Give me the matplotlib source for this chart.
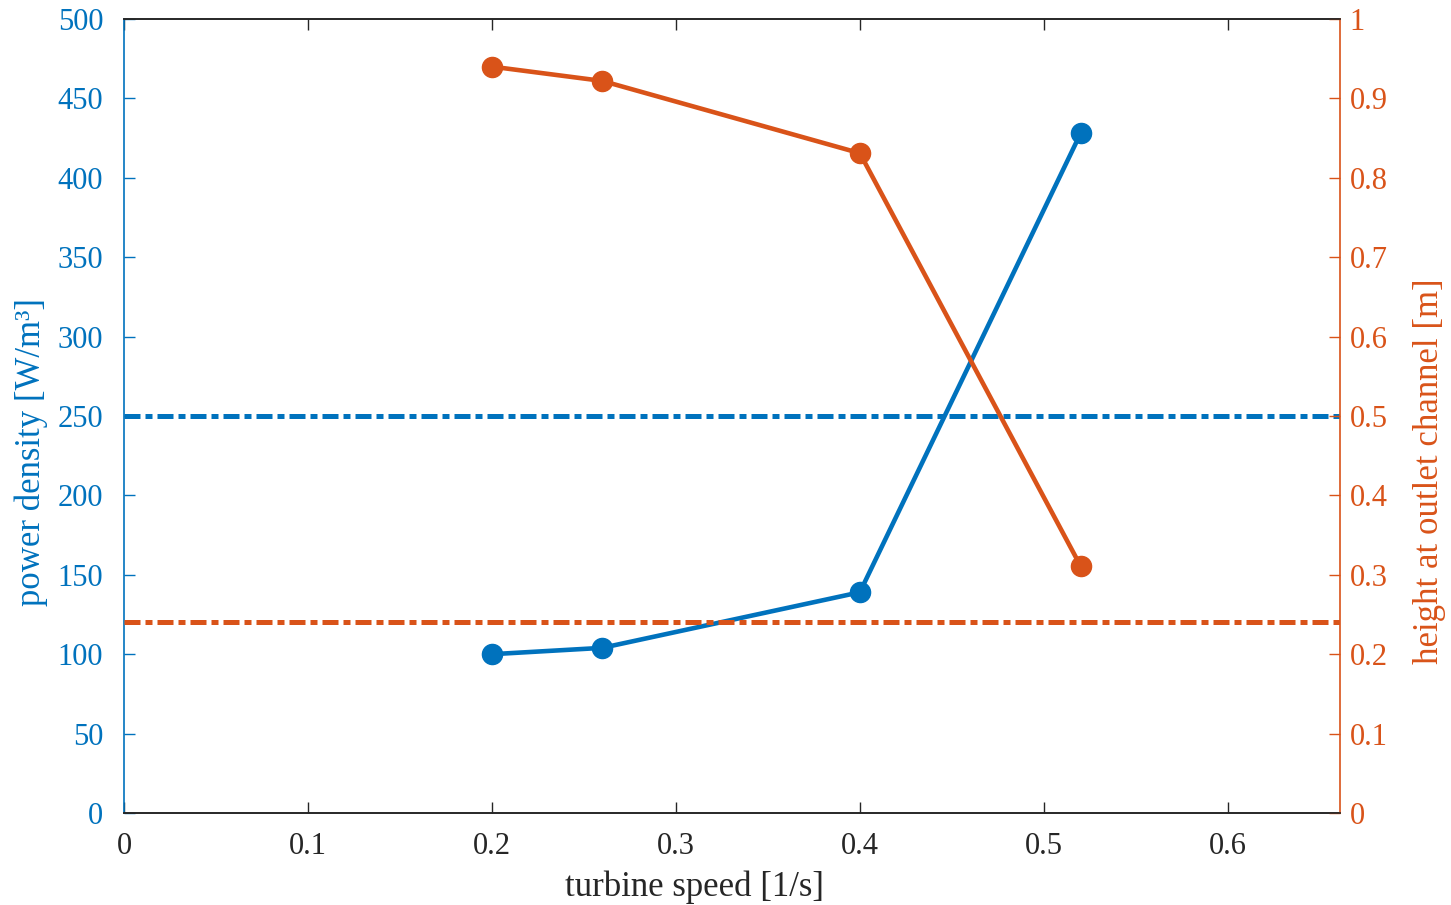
import matplotlib
matplotlib.use("Agg")
import matplotlib.pyplot as plt

plt.rcParams['font.family'] = ['Liberation Serif', 'DejaVu Serif']

speed = [0.2, 0.26, 0.4, 0.52]
power_density = [100, 104, 139, 428]
outlet_height = [0.94, 0.922, 0.831, 0.311]
power_ref = 250
height_ref = 0.24

x_ticks = [0, 0.1, 0.2, 0.3, 0.4, 0.5, 0.6]
x_ticklabels = ['0', '0.1', '0.2', '0.3', '0.4', '0.5', '0.6']
left_ticks = [0, 50, 100, 150, 200, 250, 300, 350, 400, 450, 500]
right_ticks = [0, 0.1, 0.2, 0.3, 0.4, 0.5, 0.6, 0.7, 0.8, 0.9, 1]
right_ticklabels = ['0', '0.1', '0.2', '0.3', '0.4', '0.5', '0.6', '0.7', '0.8', '0.9', '1']

BLUE = '#0072BD'
ORANGE = '#D95319'
DARK = '#262626'
FS = 22
LFS = 25

fig = plt.figure(figsize=(14.51, 9.05), dpi=100)
ax = fig.add_axes([124/1451, 1-813/905, (1340-124)/1451, (813-19)/905])
ax2 = ax.twinx()

DASH = (3.2, 1.0, 1.4, 1.0)
ax.plot(speed, power_density, color=BLUE, lw=3.3, marker='o', ms=14.5, zorder=3)
ax.axhline(power_ref, color=BLUE, lw=3.6, dashes=DASH)
ax2.plot(speed, outlet_height, color=ORANGE, lw=3.3, marker='o', ms=14.5, zorder=3)
ax2.axhline(height_ref, color=ORANGE, lw=3.6, dashes=DASH)

ax.set_xlim(0, 0.661)
ax.set_ylim(0, 500)
ax2.set_ylim(0, 1)

ax.set_xticks(x_ticks)
ax.set_xticklabels(x_ticklabels)
ax.set_yticks(left_ticks)
ax2.set_yticks(right_ticks)
ax2.set_yticklabels(right_ticklabels)

ax.tick_params(axis='x', direction='in', top=True, length=8, width=1, colors=DARK,
               labelsize=FS, pad=14)
ax.tick_params(axis='y', direction='in', length=8, width=1, colors=BLUE, labelsize=FS, pad=15)
ax2.tick_params(axis='y', direction='in', length=8, width=1, colors=ORANGE, labelsize=FS, pad=7)

for a in (ax, ax2):
    a.spines['top'].set_color(DARK)
    a.spines['bottom'].set_color(DARK)
    a.spines['left'].set_color(BLUE)
    a.spines['right'].set_color(ORANGE)
    for s in a.spines.values():
        s.set_linewidth(1.2)
ax.spines['right'].set_visible(False)
ax2.spines['left'].set_visible(False)

ax.set_xlabel('turbine speed [1/s]', fontsize=LFS, color=DARK)
ax.set_ylabel('power density [W/m³]', fontsize=LFS, color=BLUE)
ax2.set_ylabel('height at outlet channel [m]', fontsize=LFS, color=ORANGE)
ax.xaxis.set_label_coords(0.469, -0.072)
ax.yaxis.set_label_coords(-0.0625, 0.455)
ax2.yaxis.set_label_coords(1.060, 0.431)

fig.savefig('out.png', dpi=100)
